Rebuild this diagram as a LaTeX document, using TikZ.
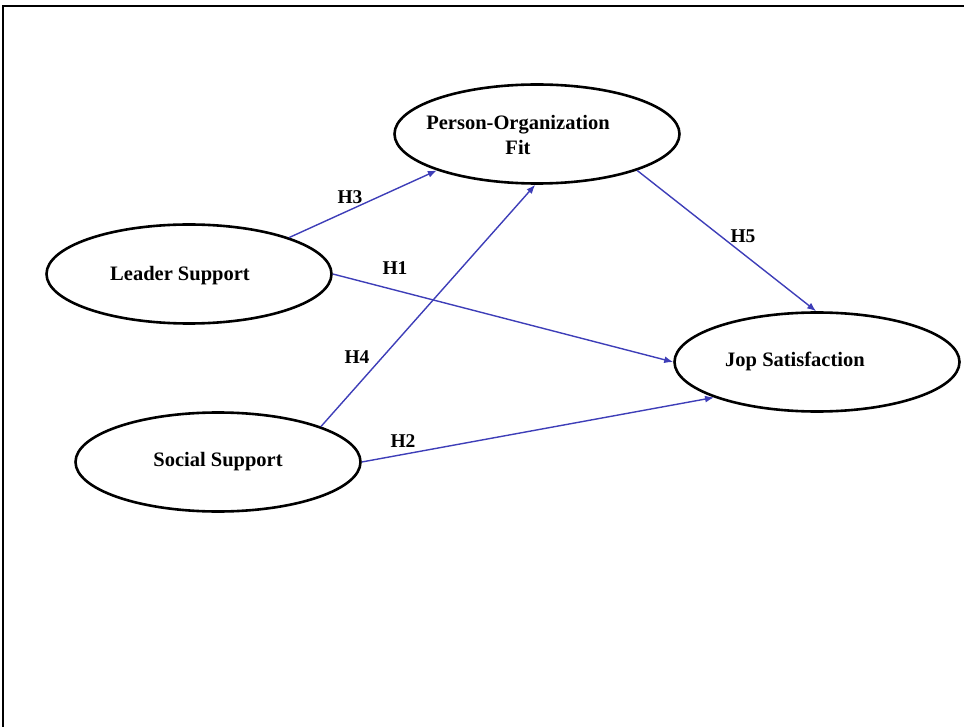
\documentclass[tikz,border=0pt]{standalone}
\usepackage{fontspec}
\setmainfont{Liberation Serif}
\usetikzlibrary{arrows.meta,shapes.geometric}
\definecolor{pathblue}{RGB}{62,62,184}

\begin{document}
\begin{tikzpicture}[x=1pt, y=-1pt,
  latent/.style={draw, ellipse, line width=2.6pt, inner sep=0pt, minimum width=285pt, minimum height=99pt},
  vartext/.style={font=\fontsize{20.5}{25}\selectfont\bfseries, align=center, inner sep=0pt},
  hyp/.style={font=\fontsize{19.5}{23}\selectfont\bfseries, inner sep=0pt},
  path/.style={draw=pathblue, line width=1.4pt, -{Latex[length=9pt, width=7pt]}}]
\useasboundingbox (0,0) rectangle (964,727);
% Frame
\draw[line width=2pt] (3,727) -- (3,6) -- (964,6);
% Constructs
\node[latent] (pof) at (537,134) {};
\node[latent] (lead) at (189,274) {};
\node[latent] (soc) at (218,462) {};
\node[latent] (job) at (817,362) {};
\node[vartext] (poftxt) at (518,135) {Person-Organization\\Fit};
\node[vartext] (leadtxt) at (180,276) {Leader Support};
\node[vartext] (soctxt) at (218,462) {Social Support};
\node[vartext] (jobtxt) at (795,361) {Jop Satisfaction};
% Paths
\draw[path] (lead.20) -- (pof.200);
\draw[path] (lead.0) -- (job.180);
\draw[path] (soc.19) -- (pof.268);
\draw[path] (soc.0) -- (job.199);
\draw[path] (pof.340) -- (job.91);
% Hypotheses
\node[hyp] (h3) at (350,197) {H3};
\node[hyp] (h1) at (395,268) {H1};
\node[hyp] (h4) at (357,357) {H4};
\node[hyp] (h2) at (403,441) {H2};
\node[hyp] (h5) at (743,236) {H5};
\end{tikzpicture}
\end{document}
